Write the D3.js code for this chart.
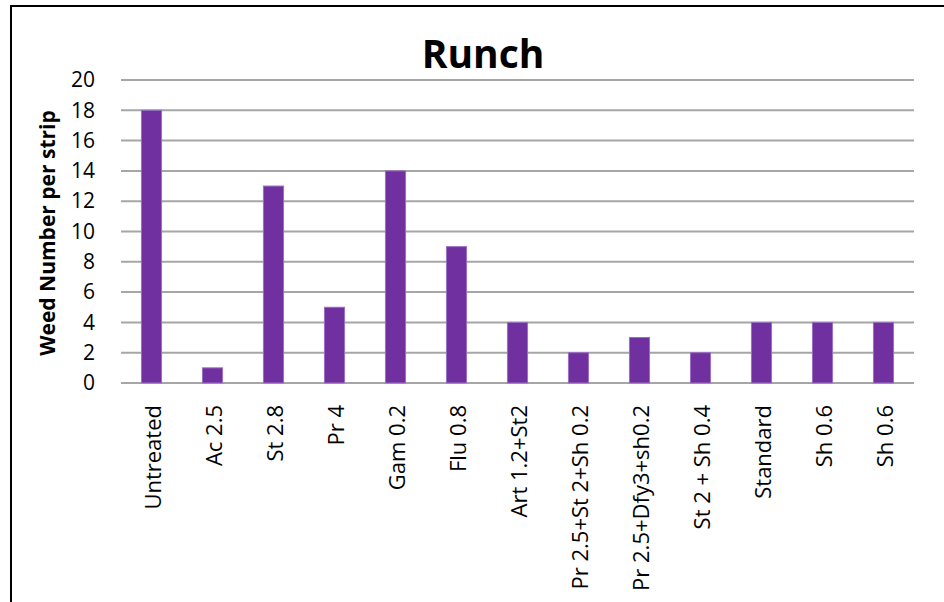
<!DOCTYPE html>
<html><head><meta charset="utf-8">
<script src="https://cdn.jsdelivr.net/npm/d3@7"></script>
<style>body{margin:0;background:#fff}svg{display:block}</style>
</head><body>
<script>
const categories = ["Untreated","Ac 2.5","St 2.8","Pr 4","Gam 0.2","Flu 0.8","Art 1.2+St2","Pr 2.5+St 2+Sh 0.2","Pr 2.5+Dfy3+sh0.2","St 2 + Sh 0.4","Standard","Sh 0.6","Sh 0.6"];
const values = [18,1,13,5,14,9,4,2,3,2,4,4,4];
const yTicks = [0,2,4,6,8,10,12,14,16,18,20];
const title = "Runch";
const yTitle = "Weed Number per strip";

const W=944,H=602;
const svg=d3.select("body").append("svg").attr("width",W).attr("height",H);
svg.append("rect").attr("x",11).attr("y",6).attr("width",W).attr("height",H).attr("fill","#fff").attr("stroke","#000").attr("stroke-width",2);

const x=d3.scaleBand().domain(d3.range(categories.length)).range([121,914]).paddingInner(0.67).paddingOuter(0.335);
const y=d3.scaleLinear().domain([0,20]).range([383,80]);

const font="'Open Sans', sans-serif";
svg.append("g").selectAll("line").data(yTicks).join("line")
  .attr("x1",121).attr("x2",914).attr("y1",d=>y(d)).attr("y2",d=>y(d))
  .attr("stroke","#a6a6a6").attr("stroke-width",2);

const yAxis=svg.append("g").attr("transform","translate(121,0)")
  .call(d3.axisLeft(y).tickValues(yTicks).tickSize(0).tickPadding(26));
yAxis.select(".domain").remove();
yAxis.selectAll("text").attr("font-family",font).attr("font-size",21).attr("fill","#000");

svg.append("g").selectAll("rect").data(values).join("rect")
  .attr("x",(d,i)=>x(i)).attr("width",x.bandwidth())
  .attr("y",d=>y(d)).attr("height",d=>y(0)-y(d))
  .attr("fill","#7030a0").attr("stroke","#9a6fc0").attr("stroke-width",1);

const bandScale=d3.scaleBand().domain(categories.map((c,i)=>i)).range([121,914]);
svg.append("g").selectAll("text").data(categories).join("text")
  .attr("transform",(d,i)=>`translate(${bandScale(i)+bandScale.bandwidth()/2+9},405) rotate(-90)`)
  .attr("text-anchor","end").attr("font-family",font).attr("font-size",22).text(d=>d);

svg.append("text").attr("x",483).attr("y",68).attr("text-anchor","middle")
  .attr("font-family",font).attr("font-weight","bold").attr("font-size",39).text(title);

svg.append("text").attr("transform","translate(55,233) rotate(-90)").attr("text-anchor","middle")
  .attr("font-family",font).attr("font-weight","bold").attr("font-size",21).text(yTitle);
</script>
</body></html>
